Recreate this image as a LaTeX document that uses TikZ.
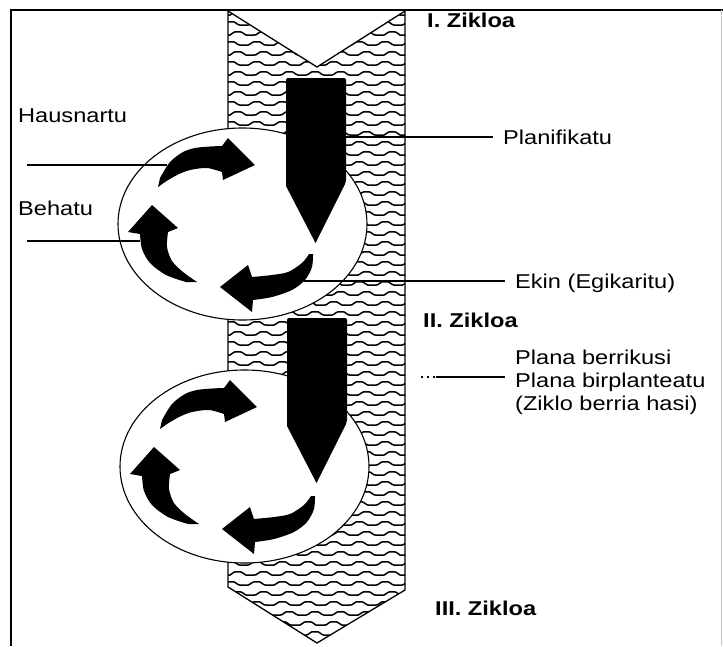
\documentclass[tikz,border=0pt]{standalone}
\usepackage{fontspec}
\setmainfont{Liberation Sans}[FakeStretch=1.18]
\begin{document}
\begin{tikzpicture}[x=1pt,y=-1pt,
  lbl/.style={anchor=base west, inner sep=0pt, font=\fontsize{20}{23}\selectfont},
  zlbl/.style={anchor=base west, inner sep=0pt, font=\fontsize{20}{23}\selectfont\bfseries},
  leader/.style={line width=1.2pt},
  hatch/.style={line width=1.5pt},
  bandline/.style={line width=1.3pt, line join=miter},
  cyc/.style={draw=black, fill=white, line width=1.1pt},
  blk/.style={fill=black}]
\useasboundingbox (0,0) rectangle (723,646);
% frame
\draw[line width=1.5pt] (11,646) -- (11,10) -- (723,10);
\draw[gray!45, line width=1pt] (721.5,10) -- (721.5,646);
% band with wavy hatch
\begin{scope}
\clip (228,11) -- (317,67) -- (405,11) -- (405,590) -- (317,643) -- (228,587) -- cycle;
\foreach \k in {0,...,63} {
  \pgfmathsetmacro\yy{14+10*\k}
  \pgfmathsetmacro\ph{mod(\k,2)*7}
  \draw[hatch] plot[domain=220:412, samples=97] (\x, {\yy - 3*max(-0.35,min(0.75,sin((\x+\ph)*14)))});
}
\end{scope}
\draw[bandline] (228,11) -- (317,67) -- (405,11) -- (405,590) -- (317,643) -- (228,587) -- cycle;
% cycle ellipses
\draw[cyc] (242.5,224) ellipse [x radius=124.5, y radius=96];
\draw[cyc] (244.5,466.5) ellipse [x radius=124.5, y radius=96.5];
% pencils and arrows
\foreach \dy/\dx/\ay in {0/0/0, 240/1/242} {
\begin{scope}[shift={(\dx,\dy)}]
  \fill[blk, rounded corners=2pt] (286,186) -- (286,78) -- (346,78) -- (346,182) [sharp corners] -- (315.5,243) -- cycle;
\end{scope}
\begin{scope}[shift={(2*\dx,\ay)}]
  % top arrow
  \fill[blk] (158,187) -- plot[smooth] coordinates {(160,178) (170,162) (183,152) (195,148) (210,146.5) (222,146)}
    -- (228,138) -- (255,165) -- (223,180)
    -- plot[smooth] coordinates {(222,172) (207,168) (190,170) (177,175) (165,182)} -- cycle;
  % left arrow
  \fill[blk] (152,205) -- (178,228) -- (168,232)
    -- plot[smooth] coordinates {(168,232) (167,247) (172,261) (183,272) (197,282)}
    -- plot[smooth] coordinates {(186,282) (166,275) (150,263) (142,249) (140,234)}
    -- (128,232) -- cycle;
  % bottom arrow
  \fill[blk] (220,287) -- (248,265) -- (252,277)
    -- plot[smooth] coordinates {(252,277) (272,275) (288,272) (302,263) (309,254)}
    -- plot[smooth] coordinates {(313,254) (312,267) (305,280) (292,290) (272,297) (253,300)}
    -- (252,312) -- cycle;
\end{scope}
}
% leader lines
\coordinate (hA) at (27,165);  \coordinate (hB) at (167,165);
\coordinate (bA) at (27,241);  \coordinate (bB) at (140,241);
\coordinate (pA) at (346,137); \coordinate (pB) at (493,137);
\coordinate (eA) at (304,281); \coordinate (eB) at (505,281);
\coordinate (rA) at (421,377); \coordinate (rM) at (436,377); \coordinate (rB) at (505,377);
\draw[leader] (hA) -- (hB);
\draw[leader] (bA) -- (bB);
\draw[leader] (pA) -- (pB);
\draw[leader] (eA) -- (eB);
\draw[leader, dash pattern=on 2pt off 4pt] (rA) -- (rM);
\draw[leader] (rM) -- (rB);
% labels
\node[zlbl] (z1) at (427,27) {I. Zikloa};
\node[zlbl] (z2) at (423,327) {II. Zikloa};
\node[zlbl] (z3) at (435,615) {III. Zikloa};
\node[lbl] (haus) at (18,122) {Hausnartu};
\node[lbl] (beha) at (18,215) {Behatu};
\node[lbl] (plan) at (503,144) {Planifikatu};
\node[lbl] (ekin) at (515,288) {Ekin (Egikaritu)};
\node[lbl] (pl1) at (515,364) {Plana berrikusi};
\node[lbl] (pl2) at (515,387) {Plana birplanteatu};
\node[lbl] (pl3) at (515,410) {(Ziklo berria hasi)};
\end{tikzpicture}
\end{document}
